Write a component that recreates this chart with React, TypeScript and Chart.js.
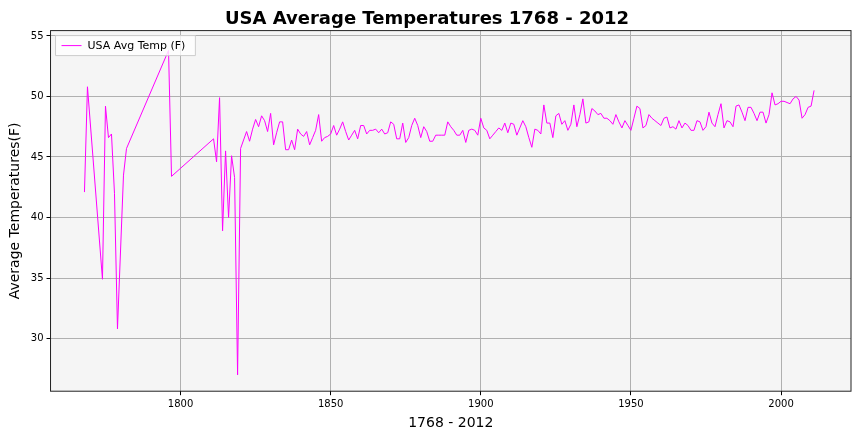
import React, { useEffect, useRef } from "react";
import { Chart, registerables } from "chart.js";
Chart.register(...registerables);

const earlyYears = [1768, 1769, 1774, 1775, 1776, 1777, 1778, 1779, 1781, 1782, 1796, 1797, 1811, 1812, 1813, 1814, 1815, 1816, 1817, 1818, 1819];
const earlyTemps = [42.1, 50.8, 34.9, 49.2, 46.6, 46.9, 42.0, 30.8, 43.5, 45.7, 53.8, 43.4, 46.5, 44.6, 49.9, 38.9, 45.5, 40.0, 45.1, 43.3, 27.0];
const laterStartYear = 1820;
const laterTemps = [
  45.7, 46.4, 47.1, 46.3, 47.3, 48.1, 47.5, 48.4, 48.0, 47.1, 48.6, 46.0, 47.0, 47.9, 47.9, 45.6, 45.6, 46.4, 45.6, 47.3,
  46.9, 46.7, 47.1, 46.0, 46.6, 47.2, 48.5, 46.3, 46.6, 46.7, 46.9, 47.6, 46.8, 47.3, 47.9, 47.1, 46.4, 46.8, 47.2, 46.5,
  47.6, 47.6, 46.9, 47.2, 47.2, 47.3, 47.0, 47.3, 46.9, 47.0, 47.9, 47.7, 46.5, 46.5, 47.8, 46.2, 46.6, 47.6, 48.2, 47.6,
  46.6, 47.5, 47.1, 46.3, 46.3, 46.8, 46.8, 46.8, 46.8, 47.9, 47.5, 47.2, 46.8, 46.8, 47.2, 46.2, 47.2, 47.3, 47.2, 46.8,
  48.2, 47.4, 47.2, 46.5, 46.8, 47.1, 47.4, 47.2, 47.8, 47.0, 47.8, 47.7, 46.8, 47.4, 48.0, 47.5, 46.6, 45.8, 47.3, 47.2,
  46.9, 49.3, 47.8, 47.8, 46.6, 48.4, 48.6, 47.7, 48.0, 47.2, 47.7, 49.3, 47.5, 48.5, 49.8, 47.8, 47.9, 49.0, 48.8, 48.5,
  48.6, 48.2, 48.2, 48.0, 47.7, 48.5, 47.9, 47.4, 48.0, 47.6, 47.2, 48.2, 49.2, 49.0, 47.4, 47.6, 48.5, 48.2, 48.0, 47.8,
  47.6, 48.2, 48.3, 47.4, 47.5, 47.3, 48.0, 47.4, 47.8, 47.6, 47.2, 47.2, 48.0, 47.9, 47.2, 47.5, 48.7, 47.8, 47.5, 48.5,
  49.4, 47.4, 48.0, 47.9, 47.5, 49.2, 49.3, 48.7, 48.0, 49.1, 49.1, 48.6, 48.0, 48.7, 48.7, 47.8, 48.5, 50.3, 49.3, 49.4,
  49.6, 49.6, 49.5, 49.4, 49.8, 50.0, 49.7, 48.2, 48.5, 49.1, 49.2, 50.5,
];
const xTicks = [1800, 1850, 1900, 1950, 2000];
const yTicks = [30, 35, 40, 45, 50, 55];

const legendPlugin = {
  id: "insideLegend",
  afterDraw(chart: any) {
    const { ctx, chartArea } = chart;
    const x = chartArea.left + 5, y = chartArea.top + 5;
    ctx.save();
    ctx.font = "11px 'DejaVu Sans'";
    const label = "USA Avg Temp (F)";
    const w = ctx.measureText(label).width + 42;
    ctx.fillStyle = "rgba(255,255,255,0.8)";
    ctx.strokeStyle = "#cccccc";
    ctx.lineWidth = 1;
    ctx.beginPath();
    ctx.rect(x, y, w, 20);
    ctx.fill();
    ctx.stroke();
    ctx.strokeStyle = "#ff00ff";
    ctx.beginPath();
    ctx.moveTo(x + 6, y + 10);
    ctx.lineTo(x + 26, y + 10);
    ctx.stroke();
    ctx.fillStyle = "#000";
    ctx.textBaseline = "middle";
    ctx.fillText(label, x + 32, y + 10.5);
    ctx.restore();
  },
};

const bgPlugin = {
  id: "bg",
  beforeDraw(chart: any) {
    const { ctx, chartArea } = chart;
    ctx.save();
    ctx.fillStyle = "#f5f5f5";
    ctx.fillRect(chartArea.left, chartArea.top, chartArea.right - chartArea.left, chartArea.bottom - chartArea.top);
    ctx.restore();
  },
  afterDraw(chart: any) {
    const { ctx, chartArea } = chart;
    ctx.save();
    ctx.strokeStyle = "#222";
    ctx.lineWidth = 1;
    ctx.strokeRect(chartArea.left, chartArea.top, chartArea.right - chartArea.left, chartArea.bottom - chartArea.top);
    ctx.restore();
  },
};

export default function App() {
  const ref = useRef<HTMLCanvasElement>(null);
  useEffect(() => {
    document.body.style.margin = "0";
    const data = [
      ...earlyYears.map((yr, i) => ({ x: yr, y: earlyTemps[i] })),
      ...laterTemps.map((t, i) => ({ x: laterStartYear + i, y: t })),
    ];
    const chart = new Chart(ref.current!, {
      type: "line",
      data: {
        datasets: [{
          label: "USA Avg Temp (F)",
          data,
          borderColor: "#ff00ff",
          borderWidth: 1,
          pointRadius: 0,
          tension: 0,
        }],
      },
      options: {
        animation: false,
        responsive: false,
        layout: { padding: { top: 0, right: 13, left: 3, bottom: 0 } },
        plugins: {
          legend: { display: false },
          tooltip: { enabled: false },
          title: {
            display: true,
            text: "USA Average Temperatures 1768 - 2012",
            font: { family: "'DejaVu Sans'", size: 18, weight: "bold" },
            color: "#000",
            padding: { top: 9, bottom: 0 },
          },
        },
        scales: {
          x: {
            type: "linear",
            min: 1756.7,
            max: 2023.3,
            afterBuildTicks: (s: any) => { s.ticks = xTicks.map((v) => ({ value: v })); },
            ticks: { color: "#000", font: { family: "'DejaVu Sans'", size: 10 }, maxRotation: 0, callback: (v: any) => String(v) },
            grid: { color: "#b0b0b0", drawTicks: true, tickLength: 4, tickColor: "#000" },
            border: { display: false },
            title: { display: true, text: "1768 - 2012", color: "#000", font: { family: "'DejaVu Sans'", size: 14 }, padding: { top: 2, bottom: 0 } },
          },
          y: {
            min: 25.65,
            max: 55.44,
            afterBuildTicks: (s: any) => { s.ticks = yTicks.map((v) => ({ value: v })); },
            ticks: { color: "#000", font: { family: "'DejaVu Sans'", size: 10 } },
            grid: { color: "#b0b0b0", tickLength: 4, tickColor: "#000" },
            border: { display: false },
            title: { display: true, text: "Average Temperatures(F)", color: "#000", font: { family: "'DejaVu Sans'", size: 14 } },
          },
        },
      },
      plugins: [bgPlugin, legendPlugin],
    });
    return () => chart.destroy();
  }, []);
  return <canvas ref={ref} width={864} height={432} style={{ display: "block" }} />;
}
